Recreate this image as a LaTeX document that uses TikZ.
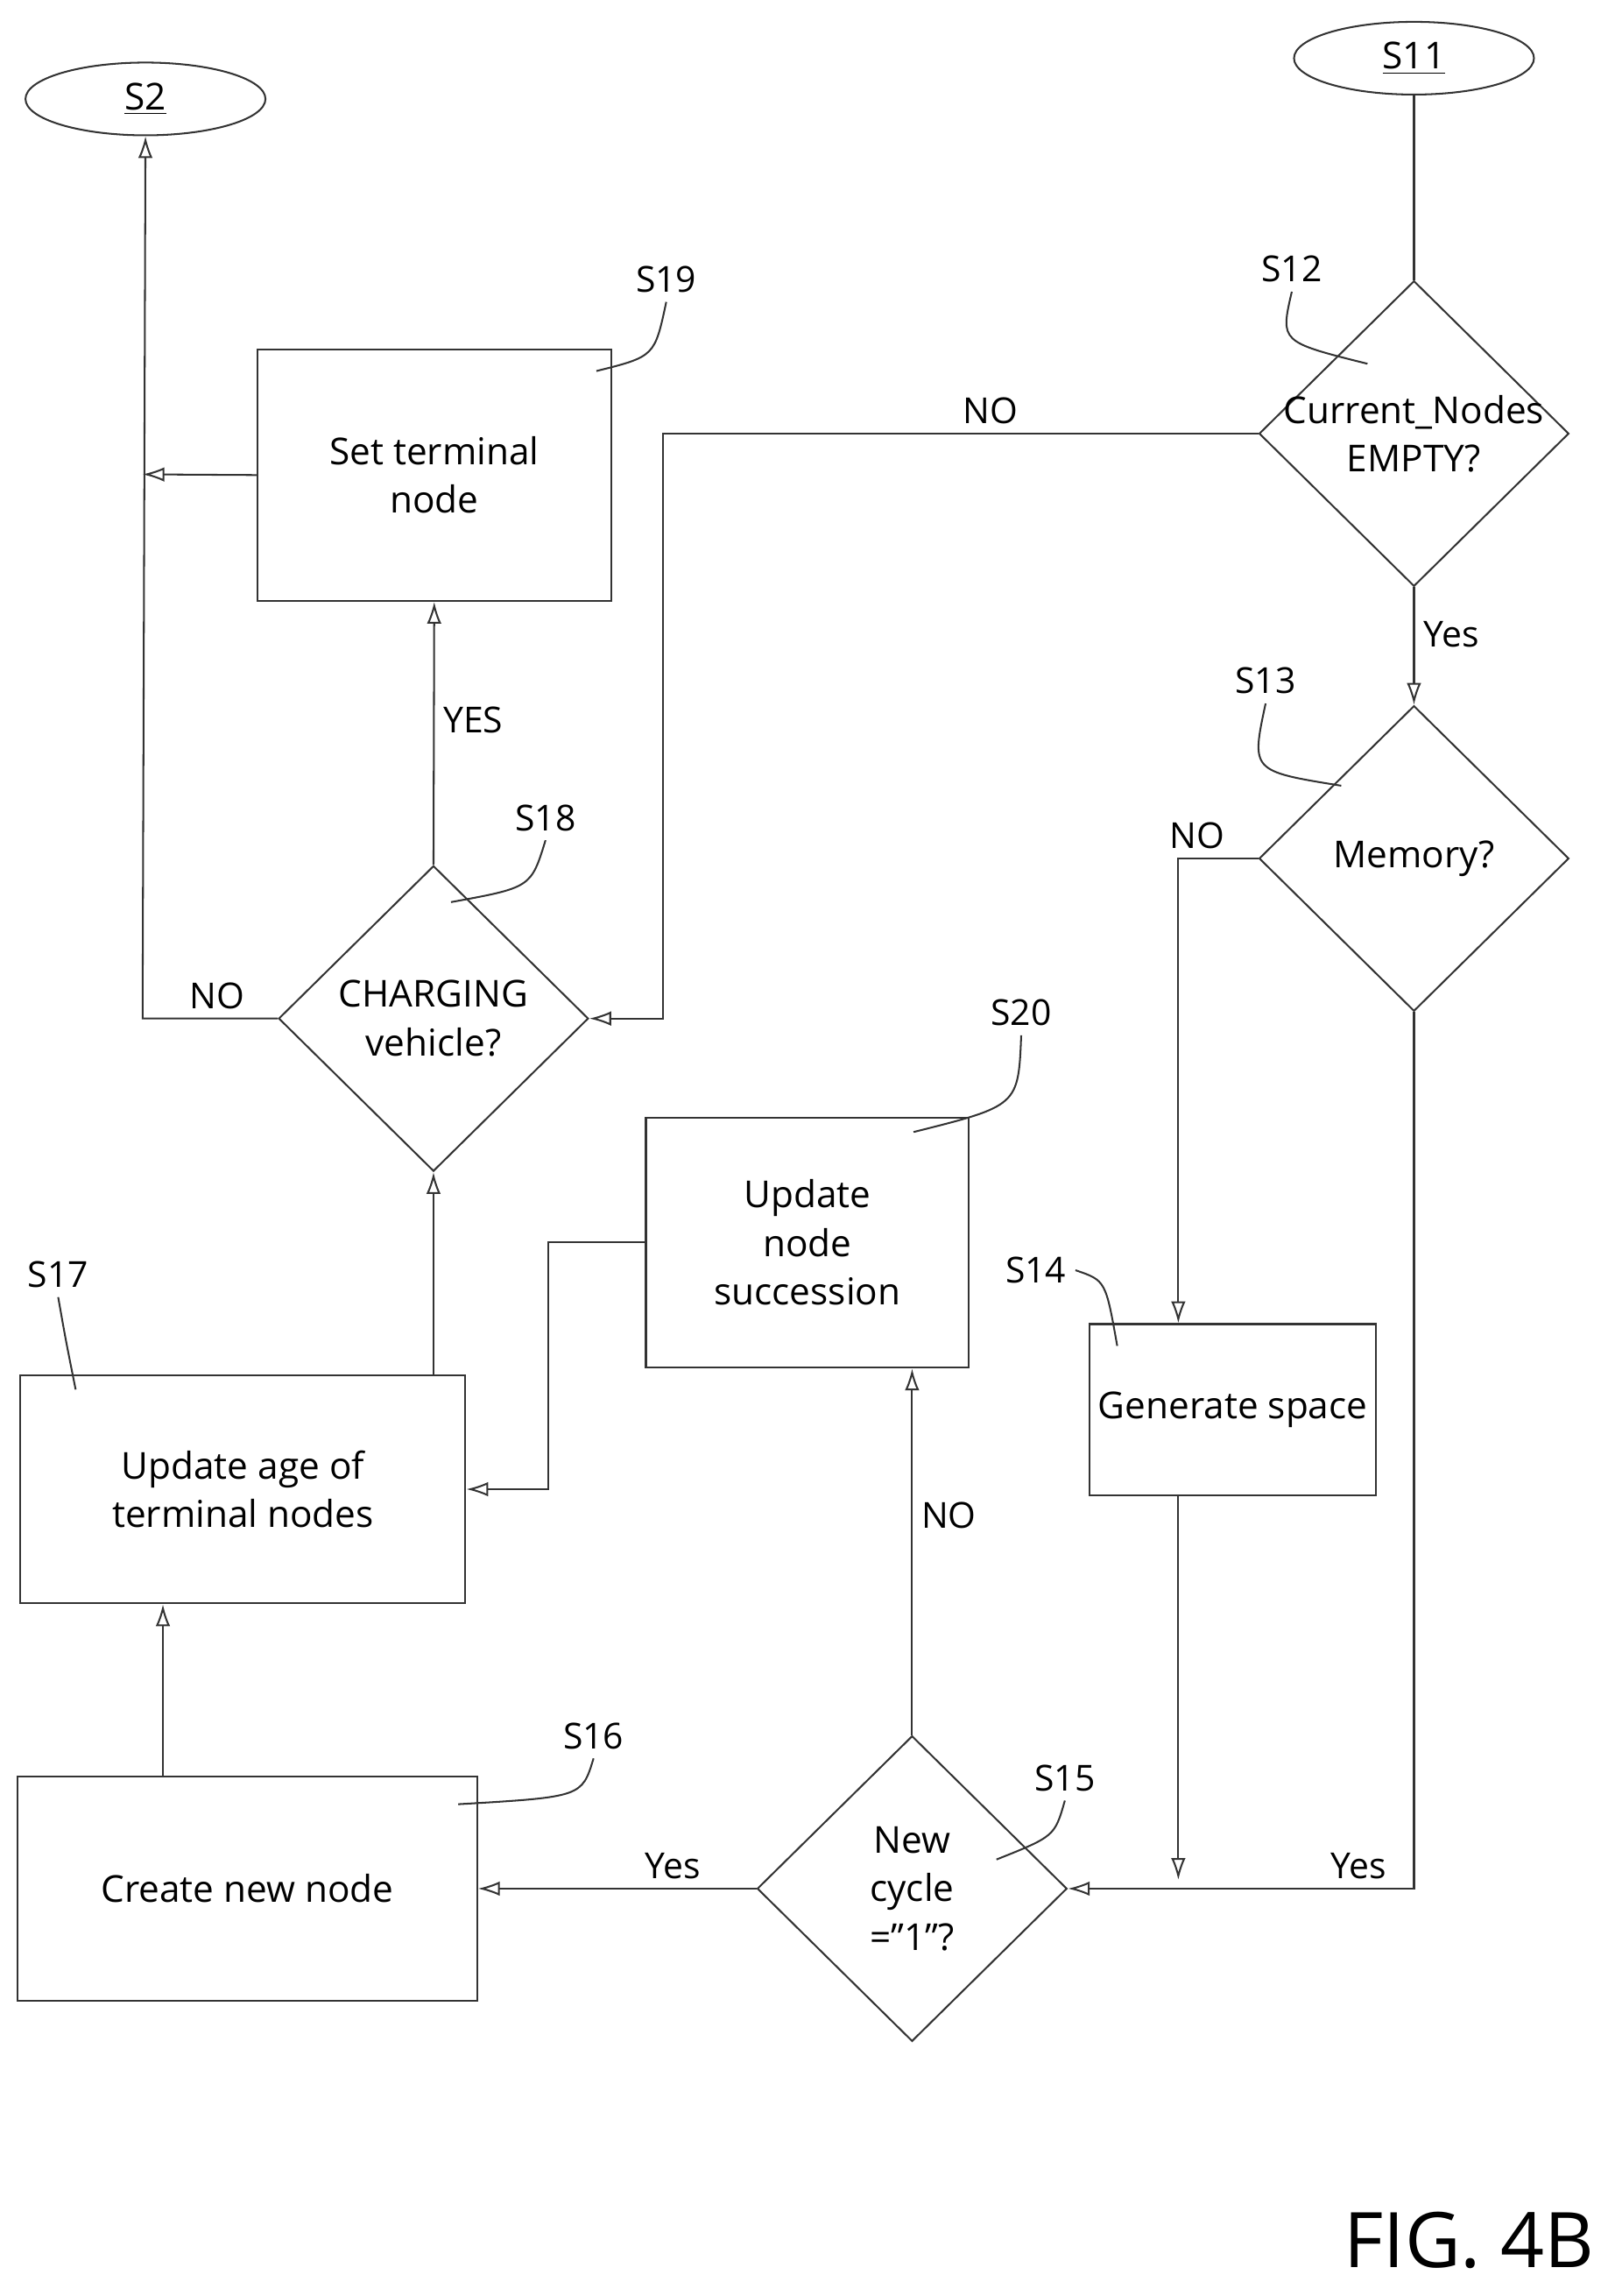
\documentclass[tikz,border=0pt]{standalone}
\usepackage{fontspec}
\setmainfont{Open Sans}
\usetikzlibrary{shapes.geometric,arrows.meta}
\tikzset{
  box/.style={draw=black!80,rectangle,align=center,inner sep=2pt},
  dec/.style={draw=black!80,diamond,align=center,inner sep=-12pt,minimum width=4.26cm,minimum height=4.2cm},
  term/.style={draw=black!80,ellipse,minimum width=3.3cm,minimum height=1cm},
  line/.style={draw=black!80,line width=0.7pt},
  flow/.style={line,-{Latex[open,length=3mm,width=2mm]}},
  lab/.style={font=\fontsize{14}{16}\selectfont}
}
\begin{document}
\begin{tikzpicture}[x=0.02cm,y=-0.02cm,font=\fontsize{14.5}{19}\selectfont,line width=0.7pt]
\useasboundingbox (0,0) rectangle (1100,1578);
% terminals
\node[term] (s2) at (100,68) {\underline{S2}};
\node[term] (s11) at (972,40) {\underline{S11}};
% boxes
\node[box,minimum width=4.86cm,minimum height=3.46cm] (s19) at (298.5,326.5) {Set terminal\\node};
\node[box,minimum width=4.44cm,minimum height=3.44cm] (s20) at (555,854) {Update\\node\\succession};
\node[box,minimum width=3.94cm,minimum height=2.36cm] (s14) at (847.5,969) {Generate space};
\node[box,minimum width=6.12cm,minimum height=3.14cm] (s17) at (167,1023.5) {Update age of\\terminal nodes};
\node[box,minimum width=6.32cm,minimum height=3.08cm] (s16) at (170,1298) {Create new node};
% decisions
\node[dec] (s12) at (972,298) {Current\_Nodes\\EMPTY?};
\node[dec] (s13) at (972,590) {Memory?};
\node[dec] (s18) at (298,700) {CHARGING\\vehicle?};
\node[dec] (s15) at (627,1298) {New\\cycle\\=''1''?};
% step labels
\node[lab] (l19) at (458,192) {S19};
\node[lab] (l12) at (888,185) {S12};
\node[lab] (l13) at (870,468) {S13};
\node[lab] (l18) at (375,562) {S18};
\node[lab] (l20) at (702,696) {S20};
\node[lab] (l14) at (712,873) {S14};
\node[lab] (l17) at (40,876) {S17};
\node[lab] (l16) at (408,1193) {S16};
\node[lab] (l15) at (732,1222) {S15};
\draw[line] (l19.south) .. controls (450,245) .. (410,255);
\draw[line] (l12.south) .. controls (880,235) .. (940,250);
\draw[line] (l13.south) .. controls (860,530) .. (922,540);
\draw[line] (l18.south) .. controls (365,610) .. (310,620);
\draw[line] (l20.south) .. controls (700,760) .. (628,778);
\draw[line] (l14.east) .. controls (760,880) .. (768,925);
\draw[line] (l17.south) .. controls (45,920) .. (52,955);
\draw[line] (l16.south) .. controls (400,1235) .. (315,1240);
\draw[line] (l15.south) .. controls (725,1262) .. (685,1278);
% connectors
\draw[line] (s11) -- (s12);
\draw[flow] (s12) -- node[lab,right,pos=0.4]{Yes} (s13);
\draw[flow] (s12.west) -- node[lab,above,pos=0.45]{NO} (456,298) |- (s18.east);
\draw[flow] (s13.west) -- node[lab,above left,pos=0.3]{NO} (810,590) -- (s14.north -| 810,0);
\draw[flow] (s13.south) |- node[lab,above,pos=0.58]{Yes} (s15.east);
\draw[flow] (s14.south -| 810,0) -- (810,1292);
\draw[flow] (s15.west) -- node[lab,above,pos=0.3]{Yes} (s16.east);
\draw[flow] (s15.north) -- node[lab,right,pos=0.6]{NO} (s15.north |- s20.south);
\draw[flow] (s16.north -| 112,0) -- (s17.south -| 112,0);
\draw[flow] (s20.west) -- (377,854) |- (s17.east);
\draw[flow] (s17.north -| s18.south) -- (s18.south);
\draw[flow] (s18.north) -- node[lab,right,pos=0.55]{YES} (s19.south);
\draw[flow] (s18.west) -- node[lab,above,pos=0.45]{NO} (98,700) -- (s2.south);
\draw[flow] (s19.west) -- (98,326);
\node[font=\fontsize{30}{34}\selectfont] (fig) at (1010,1540) {FIG. 4B};
\end{tikzpicture}
\end{document}
